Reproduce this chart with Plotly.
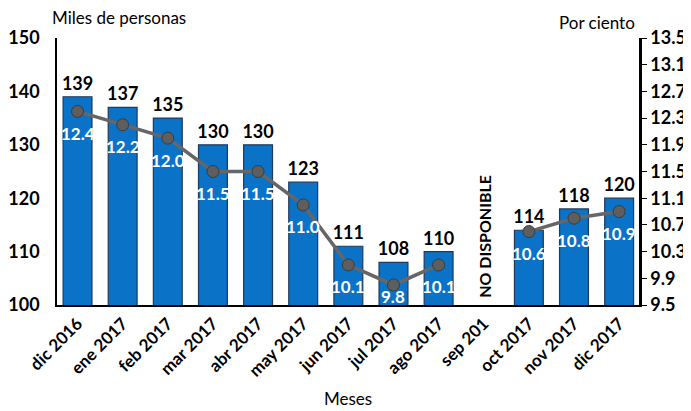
import plotly.graph_objects as go

months = ["dic 2016", "ene 2017", "feb 2017", "mar 2017", "abr 2017", "may 2017",
          "jun 2017", "jul 2017", "ago 2017", "sep 201", "oct 2017", "nov 2017", "dic 2017"]
personas = [139, 137, 135, 130, 130, 123, 111, 108, 110, None, 114, 118, 120]
porciento = [12.4, 12.2, 12.0, 11.5, 11.5, 11.0, 10.1, 9.8, 10.1, None, 10.6, 10.8, 10.9]
right_ticks = [9.5, 9.9, 10.3, 10.7, 11.1, 11.5, 11.9, 12.3, 12.7, 13.1, 13.5]

FONT = "Lato"
x_idx = list(range(len(months)))

# page body adds an 8px margin, so the figure is sized to fit the window
W, H = 683, 403
L, R, T, B = 49, 52, 30, 106
PLOT_H = H - T - B
Y2_MIN, Y2_MAX = 9.5, 13.5

fig = go.Figure()
fig.add_trace(go.Bar(
    x=x_idx, y=personas,
    marker=dict(color="#0A72C7", line=dict(color="#1F3A5C", width=1.2)),
    width=0.64,
    text=[str(v) if v is not None else "" for v in personas],
    textposition="outside",
    constraintext="none",
    textfont=dict(family=FONT, size=18, color="black", weight="bold"),
    cliponaxis=False,
    yaxis="y",
    showlegend=False,
))
fig.add_trace(go.Scatter(
    x=x_idx, y=porciento,
    mode="lines+markers",
    line=dict(color="#666666", width=3.5),
    marker=dict(color="#5E5E5E", size=12, line=dict(color="#3C3C3C", width=1)),
    connectgaps=False,
    cliponaxis=False,
    yaxis="y2",
    showlegend=False,
))

for xi, v in zip(x_idx, porciento):
    if v is None:
        continue
    px_above_bottom = (v - Y2_MIN) / (Y2_MAX - Y2_MIN) * PLOT_H
    shift = min(22, px_above_bottom - 8)
    fig.add_annotation(
        x=xi, y=v, xref="x", yref="y2", text=f"{v:.1f}", showarrow=False,
        yshift=-shift, font=dict(family=FONT, size=17, color="white", weight="bold"),
    )

fig.add_annotation(
    x=9, y=112.9, xref="x", yref="y", text="NO DISPONIBLE", textangle=-90,
    showarrow=False, font=dict(family=FONT, size=16, color="black", weight="bold"),
)
# axis titles, given in pixel positions then converted to paper coordinates
title_specs = [("Miles de personas", 42, 9, "left"), ("Por ciento", 629, 14, "right")]
for txt, px, py, anchor in title_specs:
    fig.add_annotation(
        x=(px - L) / (W - L - R), y=(H - B - py) / PLOT_H,
        xref="paper", yref="paper", xanchor=anchor, yanchor="middle",
        text=txt, showarrow=False,
        font=dict(family=FONT, size=17, color="black"),
    )

fig.update_layout(
    width=W, height=H,
    margin=dict(l=L, r=R, t=T, b=B, autoexpand=False),
    plot_bgcolor="white", paper_bgcolor="white",
    xaxis=dict(
        tickmode="array", tickvals=x_idx, ticktext=months,
        range=[-0.455, 12.44],
        tickangle=-45, automargin=False,
        tickfont=dict(family=FONT, size=17, color="black", weight="bold"),
        showline=True, linecolor="black", linewidth=2,
        ticks="", showgrid=False, zeroline=False,
        title=dict(text="Meses", font=dict(family=FONT, size=17, color="black"), standoff=14),
    ),
    yaxis=dict(
        range=[100, 150], dtick=10, tick0=100, automargin=False,
        tickfont=dict(family=FONT, size=18, color="black", weight="bold"),
        showline=True, linecolor="black", linewidth=1.5,
        ticks="", showgrid=False, zeroline=False,
        ticklabelstandoff=12,
    ),
    yaxis2=dict(
        overlaying="y", side="right", automargin=False,
        range=[Y2_MIN, Y2_MAX], tickmode="array", tickvals=right_ticks,
        ticktext=[f"{v:.1f}" for v in right_ticks],
        tickfont=dict(family=FONT, size=18, color="black", weight="bold"),
        showline=True, linecolor="black", linewidth=2.5,
        ticks="outside", ticklen=5, tickcolor="black",
        showgrid=False, zeroline=False,
    ),
)

fig.write_html("out.html")
